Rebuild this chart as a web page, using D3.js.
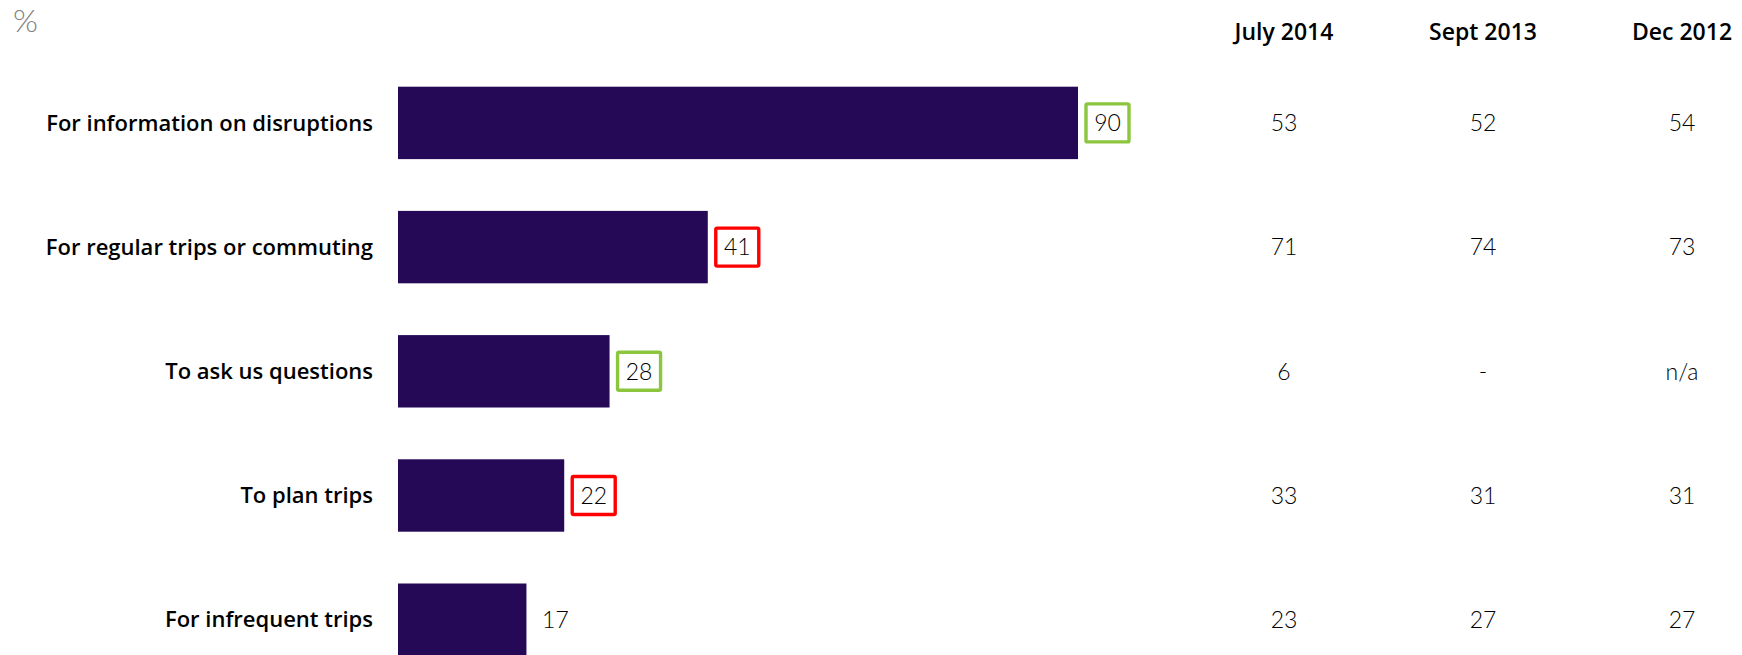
<!DOCTYPE html>
<html>
<head>
<meta charset="utf-8">
<script src="https://cdn.jsdelivr.net/npm/d3@7"></script>
<style>
  html, body { margin: 0; padding: 0; background: #fff; }
  svg { display: block; }
</style>
</head>
<body>
<svg id="chart" width="1742" height="655"></svg>
<script>
// Reasons for using the service (%), latest wave shown as bars
const categories = [
  "For information on disruptions",
  "For regular trips or commuting",
  "To ask us questions",
  "To plan trips",
  "For infrequent trips"
];
const latestValues = [90, 41, 28, 22, 17];
// Significance flag vs previous wave: "up", "down" or "none"
const changeFlags = ["up", "down", "up", "down", "none"];

// Earlier waves shown as a table on the right
const waveLabels = ["July 2014", "Sept 2013", "Dec 2012"];
const july2014 = ["53", "71", "6", "33", "23"];
const sept2013 = ["52", "74", "-", "31", "27"];
const dec2012 = ["54", "73", "n/a", "31", "27"];
const waveValues = [july2014, sept2013, dec2012];

const barColor = "#250856";
const flagColor = { up: "#8cc63f", down: "#ff0000" };

const svg = d3.select("#chart");

const x = d3.scaleLinear().domain([0, 90]).range([398, 1078]);
const y = d3.scaleBand()
  .domain(categories)
  .range([86.7, 655.9])
  .paddingInner(0.417)
  .paddingOuter(0);

const col = d3.scalePoint().domain(waveLabels).range([1284, 1682]);

const labelFont = "'Open Sans', 'Liberation Sans', Arial, sans-serif";
const numFont = "Lato, 'Open Sans', sans-serif";

// Unit marker
svg.append("text")
  .attr("x", 13).attr("y", 32)
  .attr("font-family", numFont)
  .attr("font-weight", 300)
  .attr("font-size", 32)
  .attr("fill", "#808080")
  .text("%");

// Category labels
svg.append("g").selectAll("text")
  .data(categories)
  .join("text")
  .attr("x", 373)
  .attr("y", d => y(d) + y.bandwidth() / 2)
  .attr("dy", "0.35em")
  .attr("text-anchor", "end")
  .attr("font-family", labelFont)
  .attr("font-weight", 600)
  .attr("font-size", 22)
  .attr("fill", "#000")
  .text(d => d);

// Bars
svg.append("g").selectAll("rect")
  .data(categories)
  .join("rect")
  .attr("x", x(0))
  .attr("y", d => y(d))
  .attr("width", (d, i) => x(latestValues[i]) - x(0))
  .attr("height", y.bandwidth())
  .attr("fill", barColor);

// Value labels, boxed when flagged
const vl = svg.append("g").selectAll("g")
  .data(categories)
  .join("g")
  .attr("transform", (d, i) => `translate(${x(latestValues[i])},${y(d) + y.bandwidth() / 2})`);

vl.filter((d, i) => changeFlags[i] !== "none")
  .append("rect")
  .attr("x", 8)
  .attr("y", -19)
  .attr("width", 43)
  .attr("height", 38)
  .attr("rx", 1.5)
  .attr("fill", "#fff")
  .attr("stroke", d => flagColor[changeFlags[categories.indexOf(d)]])
  .attr("stroke-width", 3.4);

vl.append("text")
  .attr("x", (d, i) => changeFlags[i] !== "none" ? 29.5 : 29)
  .attr("y", 0)
  .attr("dy", "0.36em")
  .attr("text-anchor", "middle")
  .attr("font-family", numFont)
  .attr("font-weight", 300)
  .attr("font-size", 23)
  .attr("fill", "#000")
  .text((d, i) => latestValues[i]);

// Wave headers
svg.append("g").selectAll("text")
  .data(waveLabels)
  .join("text")
  .attr("x", d => col(d))
  .attr("y", 40)
  .attr("text-anchor", "middle")
  .attr("font-family", labelFont)
  .attr("font-weight", 600)
  .attr("font-size", 23)
  .attr("fill", "#000")
  .text(d => d);

// Wave values
waveLabels.forEach((w, wi) => {
  svg.append("g").selectAll("text")
    .data(categories)
    .join("text")
    .attr("x", col(w))
    .attr("y", d => y(d) + y.bandwidth() / 2)
    .attr("dy", "0.36em")
    .attr("text-anchor", "middle")
    .attr("font-family", numFont)
    .attr("font-weight", 300)
    .attr("font-size", 23)
    .attr("fill", "#000")
    .text((d, i) => waveValues[wi][i]);
});
</script>
</body>
</html>
